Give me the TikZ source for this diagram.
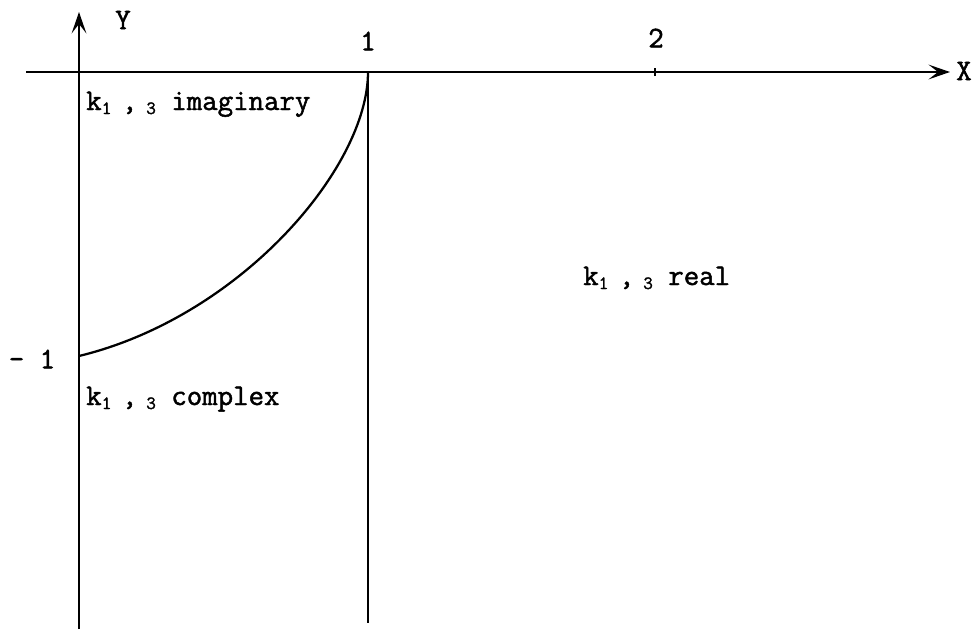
\documentclass[tikz,border=0pt]{standalone}
\usepackage{fontspec}
\setmonofont{Latin Modern Mono}[FakeBold=1.6]
\usetikzlibrary{arrows.meta}
\newcommand\ksubdig[1]{\raisebox{-3pt}{\fontsize{14}{14}\selectfont #1}}
\newcommand\kidx{k\ksubdig{1}\hspace{0.35em},\hspace{0.3em}\ksubdig{3}}
\begin{document}
\begin{tikzpicture}[x=0.75pt,y=-0.75pt,
  lbl/.style={font=\ttfamily\fontsize{22.5}{25}\selectfont, inner sep=0pt},
  axis/.style={line width=2pt},
  thin line/.style={line width=1.3pt},
  curve/.style={line width=1.7pt},
  tip/.style={-{Stealth[length=16pt,width=11pt,inset=7pt]}}]
\useasboundingbox (0,0) rectangle (975,629);
% axes
\coordinate (ybot) at (79,629);
\coordinate (ytop) at (79,12);
\coordinate (xl) at (26,72);
\coordinate (xr) at (950,72);
\coordinate (o1) at (368,72);
\coordinate (o1b) at (368,623);
\coordinate (m1) at (79,356);
\coordinate (t2) at (655,72);
\draw[axis,tip] (ybot) -- (ytop);
\draw[axis,tip] (xl) -- (xr);
\draw[thin line] (o1) -- (o1b);
\draw[line width=1pt] ([yshift=-3pt]t2) -- ([yshift=3pt]t2);
% curve
\draw[curve] (m1) .. controls (240,317) and (368,168) .. (o1);
% labels
\node[lbl] (Y) at (123,20) {Y};
\node[lbl] (X) at (964,71) {X};
\node[lbl] (one) at (368,41) {1};
\node[lbl] (two) at (656,38) {2};
\node[lbl] (mone) at (32,359) {- 1};
\node[lbl, anchor=base west] (imag) at (86,110) {\kidx\ imaginary};
\node[lbl, anchor=base west] (cplx) at (86,405) {\kidx\ complex};
\node[lbl, anchor=base west] (real) at (583,285) {\kidx\ real};
\end{tikzpicture}
\end{document}
